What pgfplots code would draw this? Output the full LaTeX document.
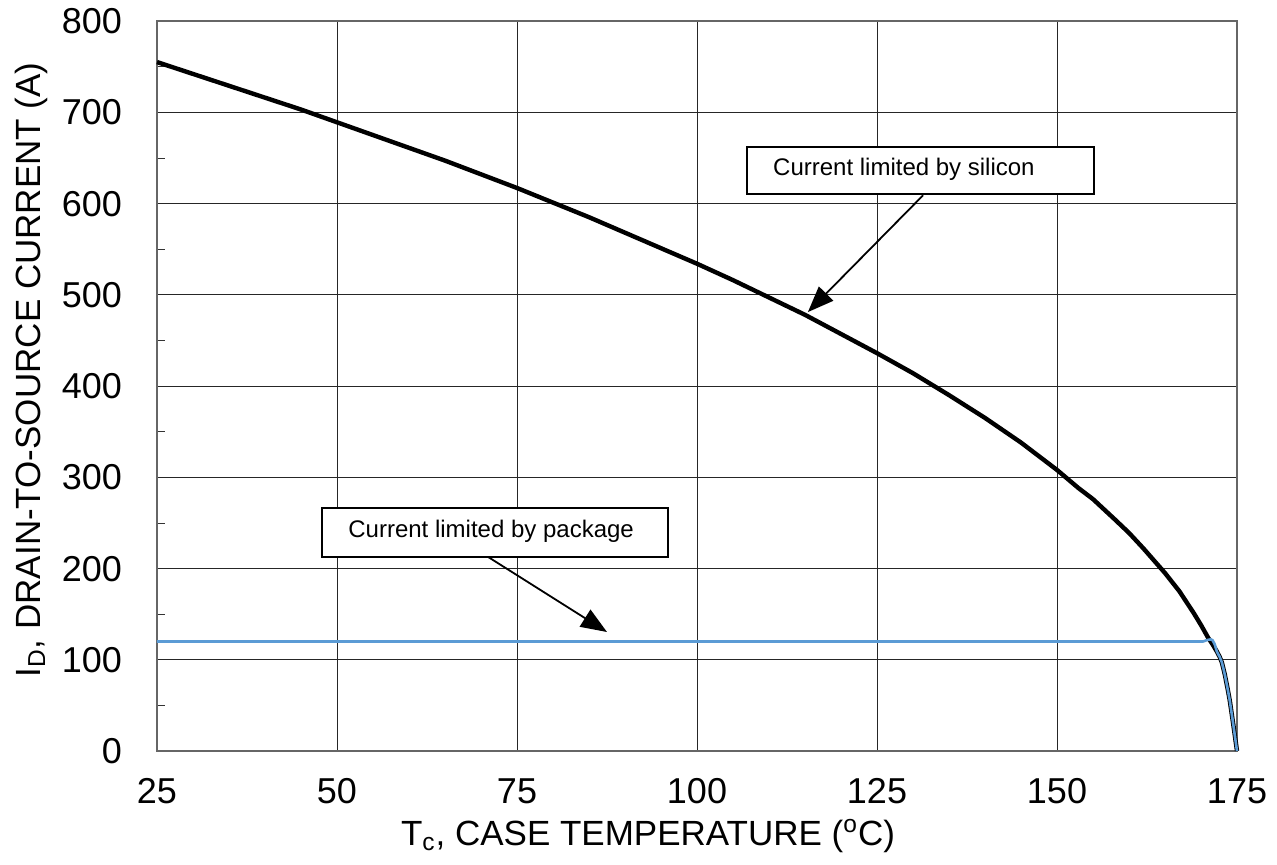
\documentclass[border=0pt]{standalone}
\usepackage{pgfplots}
\pgfplotsset{compat=1.18}
\usepackage{fontspec}
\setmainfont{Liberation Sans}
\usetikzlibrary{arrows.meta}
\definecolor{pkgblue}{RGB}{91,155,213}
\begin{document}
\begin{tikzpicture}
\begin{axis}[
    scale only axis,
    width=540pt, height=365pt,
    xmin=25, xmax=175, ymin=0, ymax=800,
    xtick={25,50,...,175},
    ytick={0,100,...,800},
    minor y tick num=1,
    grid=major,
    major grid style={black!85, line width=0.5pt},
    axis line style={black!60, line width=0.9pt},
    tick align=inside,
    major tick length=0pt,
    minor tick length=4pt,
    minor tick style={black!80},
    xtick pos=bottom, ytick pos=left,
    /pgf/number format/assume math mode=true,
    tick label style={font=\fontsize{18}{21}\selectfont},
    yticklabel style={xshift=-14pt, text height=12.5pt, text depth=0pt},
    xticklabel style={anchor=base, yshift=-26.5pt},
    xlabel={T\textsubscript{c}, CASE TEMPERATURE (\textsuperscript{o}C)},
    ylabel={I\textsubscript{D}, DRAIN-TO-SOURCE CURRENT (A)},
    xlabel style={font=\fontsize{17.5}{20}\selectfont, at={(axis description cs:0.4546,-0.1288)}, anchor=base},
    ylabel style={font=\fontsize{17.5}{20}\selectfont, at={(axis description cs:-0.1083,0.522)}, anchor=base},
    clip=false,
]
% current limited by silicon
\addplot[black, line width=2.2pt, line join=round] coordinates {
 (25,755) (30,742) (35,729) (40,716) (45,703) (50,689) (55,675) (60,661)
 (65,647) (70,632) (75,617) (80,601) (85,585) (90,568) (95,551) (100,534)
 (105,516) (110,497) (115,478) (120,457) (125,436) (130,414) (135,390)
 (140,365) (145,338) (150,308) (153,288) (155,276) (158,254) (160,239)
 (162,222) (164,204) (165,195) (166,185) (167,175) (168,163) (169,151)
 (170,138) (171,124) (171.6,117) (172.2,109) (172.6,103) (172.9,97)
 (173.3,84) (173.7,68) (174,55) (174.5,28) (175,0)
};
% current limited by package
\addplot[pkgblue, line width=1.3pt, line join=round] coordinates {
 (25,120) (170.3,120) (170.8,121.5) (171.3,122.3) (171.6,121.5)
 (171.9,117) (172.2,109) (172.6,103) (172.9,97) (173.3,84) (173.7,68)
 (174,55) (174.5,28) (175,0)
};
% annotations
\draw[black, line width=1pt, fill=white] (axis cs:106.9,610.4) rectangle (axis cs:155.1,661.9);
\node[anchor=west, font=\fontsize{12}{14}\selectfont] at (axis cs:109.6,637) {Current limited by silicon};
\draw[black, line width=0.9pt, -{Triangle[length=13pt,width=10pt]}] (axis cs:131.4,609) -- (axis cs:115.4,481);
\draw[black, line width=1pt, fill=white] (axis cs:47.9,212.6) rectangle (axis cs:95.97,266.3);
\node[anchor=west, font=\fontsize{12}{14}\selectfont] at (axis cs:50.6,241) {Current limited by package};
\draw[black, line width=0.9pt, -{Triangle[length=13pt,width=10pt]}] (axis cs:71.0,212.6) -- (axis cs:87.5,130.4);
\end{axis}
\path (-78.5pt,-57pt) rectangle (560pt,375.5pt);
\end{tikzpicture}
\end{document}
